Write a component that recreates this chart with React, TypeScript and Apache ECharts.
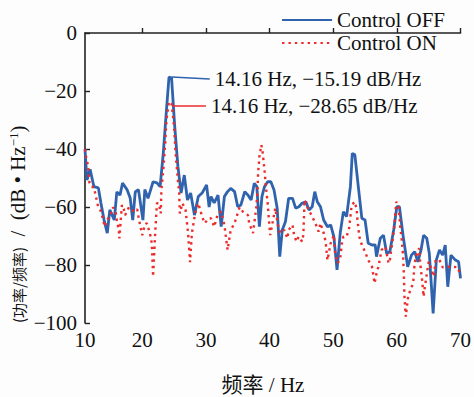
import React, { useEffect, useRef } from "react";
import * as echarts from "echarts";

// Control OFF (blue, solid)
const offFreq = [
  11.0, 11.3, 11.8, 12.1, 12.4, 13.1, 13.5, 14.0, 14.5, 14.9, 15.6, 16.0, 16.5, 16.9, 17.6, 18.1, 18.5, 18.9, 19.4, 20.1,
  20.4, 20.9, 21.7, 22.3, 22.8, 23.3, 23.8, 24.2, 24.6, 25.1, 25.6, 26.1, 26.6, 27.1, 27.6, 28.2, 28.8, 29.4, 30.1, 30.5,
  30.8, 31.3, 31.9, 32.4, 32.9, 33.4, 33.9, 34.5, 35.0, 35.5, 36.1, 36.6, 37.1, 37.6, 38.0, 38.4, 38.8, 39.2, 39.7, 40.2,
  40.7, 41.2, 41.6, 42.0, 42.5, 43.0, 43.6, 44.1, 44.6, 45.1, 45.7, 46.2, 46.7, 47.1, 47.5, 48.0, 48.5, 49.1, 49.6, 50.1,
  50.6, 51.1, 51.6, 52.1, 52.7, 53.0, 53.4, 54.0, 54.5, 55.0, 55.5, 56.1, 56.6, 56.8, 57.4, 57.9, 58.4, 58.9, 59.5, 60.0,
  60.4, 61.0, 61.7, 62.3, 62.8, 63.3, 63.8, 64.2, 64.7, 65.1, 65.7, 66.2, 66.7, 67.2, 67.6, 68.0, 68.5, 69.2, 69.7, 70.0,
];
const offPsd = [
  -40, -50.7, -47, -50, -53, -53.4, -58.6, -64.5, -69, -61, -64.5, -54.8, -55.9, -51.7, -54, -56.9, -64.5, -54.8, -54, -64.5,
  -54, -57, -51.3, -51.7, -53, -41.4, -26.5, -15.2, -15.5, -32.3, -46, -55.2, -49, -57.6, -55.2, -62.8, -56.4, -55.2, -52.4, -60,
  -56.4, -58.6, -55.9, -66.8, -56.4, -54.7, -53.6, -54.7, -59.9, -59.3, -54.7, -55.9, -57.6, -51.8, -53, -66.8, -56.4, -53, -51.3, -51.3,
  -54.1, -60.4, -77.1, -67.9, -65, -57, -57, -60.4, -59.9, -58.7, -58.2, -61, -59.9, -54.7, -58.2, -59.9, -64.5, -66.8, -66.2, -70.2,
  -81.7, -69, -61.6, -63.3, -53, -41.5, -42, -54.1, -63.9, -64.5, -72.5, -73.1, -73.1, -77.1, -70.8, -69.7, -76, -75.4, -67.9, -59.9,
  -59.9, -70.2, -80.6, -76.6, -75.4, -78.9, -74.8, -69.7, -70.8, -76, -96.7, -78.3, -74.8, -76.6, -73.1, -87.5, -76.6, -78.3, -78.9, -84.6,
];

// Control ON (red, dotted)
const onFreq = [
  11.0, 11.2, 11.5, 11.7, 12.0, 12.4, 12.7, 13.0, 13.4, 13.8, 14.1, 14.4, 15.0, 15.4, 15.8, 16.0, 16.3, 16.4, 16.8, 17.1,
  17.3, 17.9, 18.7, 19.2, 19.5, 20.0, 20.4, 20.7, 21.2, 21.5, 21.7, 22.0, 22.3, 22.6, 22.9, 23.0, 23.3, 23.6, 23.8, 24.2,
  24.6, 25.0, 25.2, 25.5, 25.8, 25.9, 26.3, 26.8, 27.2, 27.5, 27.8, 28.3, 28.8, 29.4, 29.8, 30.4, 30.8, 31.3, 31.9, 32.4,
  32.9, 33.2, 33.4, 33.9, 34.5, 34.9, 35.3, 35.8, 36.6, 36.8, 37.4, 37.9, 38.1, 38.2, 38.4, 38.7, 38.9, 39.2, 39.4, 39.7,
  39.9, 40.1, 40.9, 41.1, 41.3, 41.7, 42.3, 42.8, 43.0, 43.6, 43.8, 44.2, 44.6, 45.1, 45.3, 45.4, 45.5, 46.0, 46.7, 47.2,
  47.7, 48.0, 48.5, 48.8, 49.1, 49.6, 50.1, 50.3, 50.7, 51.1, 51.4, 51.6, 52.1, 52.5, 52.9, 53.4, 53.7, 53.8, 54.1, 54.5,
  55.0, 55.5, 56.1, 56.5, 56.8, 57.1, 57.6, 58.2, 58.7, 58.9, 59.3, 59.6, 59.8, 59.9, 60.3, 60.5, 60.8, 61.0, 61.1, 61.2,
  61.4, 61.8, 62.3, 62.6, 62.8, 63.1, 63.5, 63.7, 64.0, 64.2, 64.4, 64.6, 65.0, 65.4, 65.8, 66.1, 66.7, 67.2, 68.0, 68.8,
  69.6, 70.0,
];
const onPsd = [
  -40.1, -43, -46, -51.6, -53, -53.2, -56.2, -59.3, -61, -63.9, -66.8, -64.7, -62.8, -60.1, -61.6, -64.5, -67.9, -70.8, -59.3, -60.8,
  -62.8, -60.1, -61.6, -60.8, -64.5, -69.7, -66, -65.6, -69, -72.5, -84, -70.2, -58.7, -58.7, -62.2, -54.1, -47.2, -38, -30, -23.7,
  -24.3, -32.3, -40.3, -48.4, -55.3, -62.2, -58.7, -61, -69, -79, -69, -62.2, -58.7, -63.3, -65.6, -64, -63.9, -66.8, -62.2, -61.6,
  -66.2, -71.4, -74.8, -67.9, -65.6, -62.8, -60.1, -61.6, -62.8, -65.6, -69, -60.4, -54.7, -48.4, -42.6, -38.6, -40.9, -47.2, -52.4, -58.7,
  -64.5, -69.7, -60.4, -63.3, -66.2, -69, -67.9, -70.8, -67.9, -66.2, -69, -71.9, -70.2, -71.9, -69.7, -63.9, -57.6, -60.4, -63.3, -65.6,
  -68.5, -65.6, -69, -71.9, -78.3, -72.5, -69.7, -76, -79.4, -77.7, -71.9, -70.2, -70.2, -67.3, -59.3, -58.2, -61, -64.2, -70.2, -73.1,
  -75.4, -78.3, -80.6, -86.3, -82.9, -80.6, -74.8, -73.7, -79.4, -78.3, -71.9, -66.8, -61, -58.2, -59.9, -66.2, -71.9, -77.7, -83.4, -90.9,
  -97.8, -90.3, -88, -85.2, -79.2, -76.6, -74.2, -80, -85.8, -90.9, -87.5, -84.6, -78.9, -81.1, -84, -78.3, -78.3, -80.8, -80.6, -80.6,
  -80.8, -83.8,
];

const xLabelValues = [11, 20, 30, 40, 50, 60, 70];
const xLabelTexts = ["10", "20", "30", "40", "50", "60", "70"];
const xTickValues = [20, 30, 40, 50, 60, 70];

const annotOff = { text: "14.16 Hz, \u221215.19 dB/Hz", from: [24.6, -15.2], to: [30.6, -15.9] };
const annotOn = { text: "14.16 Hz, \u221228.65 dB/Hz", from: [24.7, -25.2], to: [30.0, -25.2] };

const SERIF = "'Liberation Serif', 'Times New Roman', serif";
const CJK = "'Liberation Serif', 'Noto Sans CJK SC', serif";
const BLUE = "#2f63ad";
const RED = "#ec2b2b";
const RED_DASH = [2.4, 4];

export default function App() {
  const ref = useRef<HTMLDivElement>(null);
  useEffect(() => {
    if (!ref.current) return;
    document.body.style.margin = "0";
    const chart = echarts.init(ref.current, null, { renderer: "svg" });
    const fmtNum = (v: number) => (v < 0 ? "\u2212" + Math.abs(v) : String(v));
    chart.setOption({
      animation: false,
      backgroundColor: "#fdfdfd",
      grid: { left: 85, right: 13, top: 33, bottom: 74, containLabel: false },
      legend: {
        orient: "vertical",
        right: 24,
        top: 4,
        itemWidth: 50,
        itemHeight: 12,
        itemGap: 1,
        itemStyle: { opacity: 0 },
        textStyle: { fontSize: 21, fontFamily: SERIF, color: "#111", lineHeight: 22 },
        data: ["Control OFF", "Control ON"],
      },
      xAxis: {
        type: "value",
        min: 11,
        max: 70,
        splitLine: { show: false },
        axisLine: { lineStyle: { color: "#222", width: 1.6 } },
        axisTick: { inside: true, length: 5, customValues: xTickValues, lineStyle: { color: "#222", width: 1.4 } },
        axisLabel: {
          customValues: xLabelValues,
          formatter: (v: number) => xLabelTexts[xLabelValues.indexOf(v)] ?? String(v),
          fontSize: 21,
          fontFamily: SERIF,
          color: "#111",
          margin: 6,
        },
      },
      yAxis: {
        type: "value",
        min: -100,
        max: 0,
        interval: 20,
        splitLine: { show: false },
        axisLine: { show: true, lineStyle: { color: "#222", width: 1.6 } },
        axisTick: { show: true, inside: true, length: 5, lineStyle: { color: "#222", width: 1.4 } },
        axisLabel: { formatter: fmtNum, fontSize: 21, fontFamily: SERIF, color: "#111", margin: 8 },
      },
      series: [
        {
          name: "Control OFF",
          type: "line",
          data: offFreq.map((f, i) => [f, offPsd[i]]),
          showSymbol: false,
          symbol: "none",
          lineStyle: { color: BLUE, width: 2.8 },
          itemStyle: { color: BLUE },
          markLine: {
            silent: true,
            symbol: ["none", "none"],
            lineStyle: { color: BLUE, width: 1.5, type: "solid" },
            label: {
              show: true,
              position: "end",
              distance: 5,
              formatter: annotOff.text,
              fontSize: 21,
              fontFamily: SERIF,
              color: "#111",
            },
            data: [[{ coord: annotOff.from }, { coord: annotOff.to }]],
          },
          z: 3,
        },
        {
          name: "Control ON",
          type: "line",
          data: onFreq.map((f, i) => [f, onPsd[i]]),
          showSymbol: false,
          symbol: "none",
          lineStyle: { color: RED, width: 2.4, type: RED_DASH },
          itemStyle: { color: RED },
          markLine: {
            silent: true,
            symbol: ["none", "none"],
            lineStyle: { color: RED, width: 1.5, type: "solid" },
            label: {
              show: true,
              position: "end",
              distance: 5,
              formatter: annotOn.text,
              fontSize: 21,
              fontFamily: SERIF,
              color: "#111",
            },
            data: [[{ coord: annotOn.from }, { coord: annotOn.to }]],
          },
          z: 4,
        },
      ],
      graphic: [
        {
          type: "text",
          x: 263,
          y: 385,
          style: {
            text: "频率 / Hz",
            font: `21px ${CJK}`,
            fill: "#111",
            align: "center",
            verticalAlign: "middle",
          },
        },
        {
          type: "text",
          x: 18,
          y: 323,
          rotation: Math.PI / 2,
          style: {
            text: "{c|(功率/频率)}{l|  /  (dB • Hz}{s|\u22121}{l|)}",
            align: "left",
            verticalAlign: "middle",
            fill: "#111",
            rich: {
              c: { fontSize: 15, fontFamily: "'Noto Sans CJK SC', serif", fill: "#111" },
              l: { fontSize: 21, fontFamily: SERIF, fill: "#111" },
              s: { fontSize: 13, fontFamily: SERIF, fill: "#111", verticalAlign: "top", padding: [0, 0, 10, 0] },
            },
          },
        },
      ],
    });
    return () => chart.dispose();
  }, []);
  return <div ref={ref} style={{ width: 474, height: 397 }} />;
}
